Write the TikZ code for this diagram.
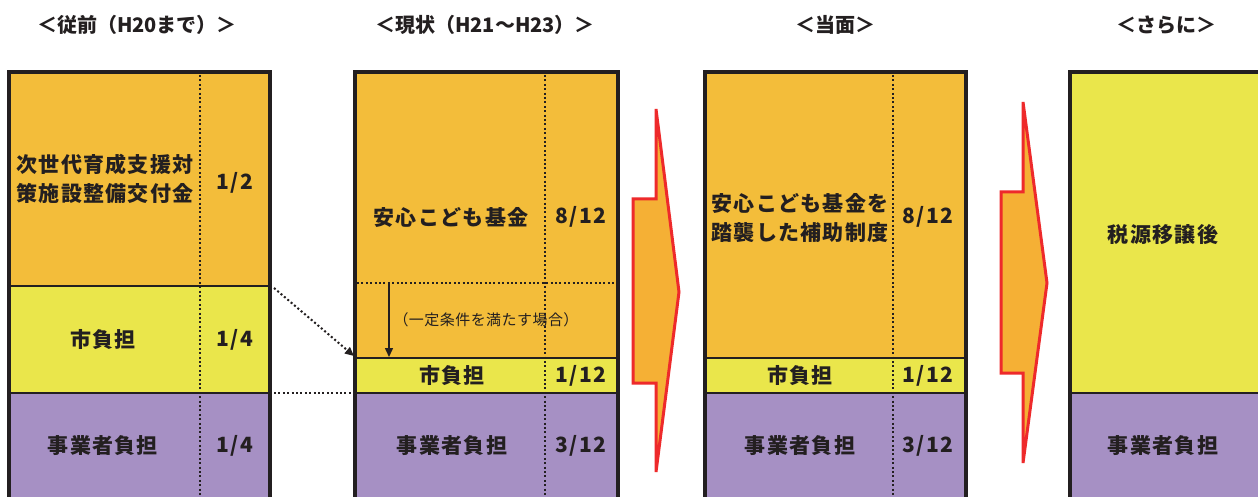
\documentclass[tikz,border=0pt]{standalone}
\usepackage{fontspec}
\setmainfont{Noto Sans CJK JP}
\usetikzlibrary{arrows.meta}
\definecolor{dk}{HTML}{231F20}
\definecolor{orng}{HTML}{F3BD3A}
\definecolor{yel}{HTML}{EAE64B}
\definecolor{purp}{HTML}{A690C4}
\definecolor{arrred}{HTML}{EE2A2B}
\definecolor{arrfill}{HTML}{F5B035}
\begin{document}
\begin{tikzpicture}[x=1pt,y=-1pt,
  border/.style={draw=dk,line width=4pt},
  sep/.style={draw=dk,line width=1.8pt},
  dots/.style={draw=dk,line width=2pt,dash pattern=on 2pt off 2.4pt},
  lbl/.style={font=\fontsize{21}{29}\selectfont\bfseries\addfontfeature{LetterSpace=6},text=dk,align=center,inner sep=0pt},
  small/.style={font=\fontsize{15}{17}\selectfont\addfontfeature{LetterSpace=3},text=dk,inner sep=0pt},
  ttl/.style={font=\fontsize{20}{22}\selectfont\bfseries,text=dk,inner sep=0pt},
  blk/.style={draw=arrred,fill=arrfill,line width=3pt,line join=miter}]
\useasboundingbox (0,0) rectangle (1258,497);
\clip (0,0) rectangle (1258,497);
\fill[white] (0,0) rectangle (1258,497);

% titles
\node[ttl] (t1) at (137,25) {＜従前（H20まで）＞};
\node[ttl] (t2) at (485,25) {＜現状（H21～H23）＞};
\node[ttl] (t3) at (835,25) {＜当面＞};
\node[ttl] (t4) at (1166,25) {＜さらに＞};

% panel 1
\fill[orng] (9,72) rectangle (270,286);
\fill[yel] (9,286) rectangle (270,393);
\fill[purp] (9,393) rectangle (270,520);
\draw[dots] (200,75) -- (200,520);
\draw[sep] (9,286) -- (270,286);
\draw[sep] (9,393) -- (270,393);
\draw[border] (9,72) rectangle (270,530);
\node[lbl] (a1) at (105,179) {次世代育成支援対\\策施設整備交付金};
\node[lbl] (a2) at (235,183) {1/2};
\node[lbl] (a3) at (103,340) {市負担};
\node[lbl] (a4) at (235,340) {1/4};
\node[lbl] (a5) at (103,446) {事業者負担};
\node[lbl] (a6) at (235,446) {1/4};

% panel 2
\fill[orng] (355,72) rectangle (618,358);
\fill[yel] (355,358) rectangle (618,393);
\fill[purp] (355,393) rectangle (618,520);
\draw[dots] (545,75) -- (545,520);
\draw[dots] (357,283) -- (616,283);
\draw[sep] (355,358) -- (618,358);
\draw[sep] (355,393) -- (618,393);
\draw[border] (355,72) rectangle (618,530);
\node[lbl] (b1) at (451,217) {安心こども基金};
\node[lbl] (b2) at (581,217) {8/12};
\node[small] (b3) at (486,320) {（一定条件を満たす場合）};
\node[lbl] (b4) at (452,376) {市負担};
\node[lbl] (b5) at (581,376) {1/12};
\node[lbl] (b6) at (452,446) {事業者負担};
\node[lbl] (b7) at (581,446) {3/12};
\coordinate (dtop) at (389,283);
\coordinate (dbot) at (389,357);
\draw[dk,line width=1.5pt,-{Triangle[length=9pt,width=8pt]}] (dtop) -- (dbot);

% connectors between panel 1 and 2
\coordinate (c1a) at (274,288);
\coordinate (c1b) at (354,356);
\coordinate (c2a) at (274,393);
\coordinate (c2b) at (353,393);
\draw[dots,-{Triangle[length=9pt,width=8pt]}] (c1a) -- (c1b);
\draw[dots] (c2a) -- (c2b);

% arrow 1
\draw[blk] (656,109) -- (679,292) -- (656,472) -- (656,383) -- (633,383) -- (633,199) -- (656,199) -- cycle;

% panel 3
\fill[orng] (705,72) rectangle (966,358);
\fill[yel] (705,358) rectangle (966,393);
\fill[purp] (705,393) rectangle (966,520);
\draw[dots] (893,75) -- (893,520);
\draw[sep] (705,358) -- (966,358);
\draw[sep] (705,393) -- (966,393);
\draw[border] (705,72) rectangle (966,530);
\node[lbl] (c1) at (800,218) {安心こども基金を\\踏襲した補助制度};
\node[lbl] (c2) at (928,217) {8/12};
\node[lbl] (c3) at (800,376) {市負担};
\node[lbl] (c4) at (928,376) {1/12};
\node[lbl] (c5) at (800,446) {事業者負担};
\node[lbl] (c6) at (928,446) {3/12};

% arrow 2
\draw[blk] (1023,102) -- (1047,283) -- (1023,463) -- (1023,373) -- (1001,373) -- (1001,192) -- (1023,192) -- cycle;

% panel 4
\fill[yel] (1070,72) rectangle (1290,393);
\fill[purp] (1070,393) rectangle (1290,520);
\draw[sep] (1070,393) -- (1290,393);
\draw[border] (1070,72) rectangle (1290,530);
\node[lbl] (d1) at (1163,235) {税源移譲後};
\node[lbl] (d2) at (1163,446) {事業者負担};
\end{tikzpicture}
\end{document}
